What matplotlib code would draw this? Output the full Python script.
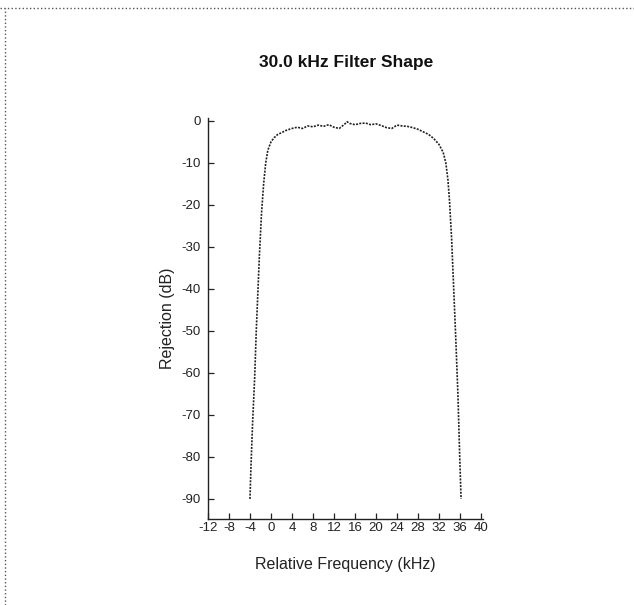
import matplotlib.pyplot as plt
from matplotlib.lines import Line2D

plt.rcParams['font.family'] = ['Liberation Sans', 'DejaVu Sans']
plt.rcParams['axes.unicode_minus'] = False

# relative frequency (kHz) and rejection (dB)
freq = [-4.0, -3.8, -3.5, -3.1, -2.8, -2.5, -2.2, -1.8, -1.4, -1.0, -0.6, 0.0,
        0.6, 1.2, 2.0, 3.0, 4.0,
        5, 6, 7, 8, 9, 10, 11, 12, 13, 14, 14.5, 15, 16, 17, 18, 19, 20, 21,
        22, 23, 24, 25, 26, 27, 28, 29, 30,
        31, 32, 32.8, 33.3, 33.7, 34.0, 34.4, 34.8, 35.2, 35.6, 35.9, 36.2]
rejection = [-90, -82, -72, -61, -50, -41, -32, -22, -15, -10, -7, -5,
             -4, -3.3, -2.8, -2.2, -1.8,
             -1.5, -1.8, -1.2, -1.4, -1.0, -1.3, -0.9, -1.5, -1.8, -0.8, -0.2,
             -0.6, -0.9, -0.6, -0.5, -0.9, -0.7, -1.1, -1.6, -1.8, -1.0, -1.2,
             -1.3, -1.6, -2.0, -2.6, -3.2,
             -4.2, -5.6, -7.5, -10, -14, -19, -28, -40, -52, -65, -78, -90]

xticks = [-12, -8, -4, 0, 4, 8, 12, 16, 20, 24, 28, 32, 36, 40]
yticks = [0, -10, -20, -30, -40, -50, -60, -70, -80, -90]

fig = plt.figure(figsize=(6.34, 6.05), dpi=100)
ax = fig.add_axes([0.328, 0.142, 0.434, 0.663])

ax.plot(freq, rejection, color='#222222', lw=1.2, ls=(0, (1.2, 0.8)))

ax.set_xlim(-12, 40.4)
ax.set_ylim(-94.8, 0.7)
ax.set_xticks(xticks)
ax.set_yticks(yticks)
ax.tick_params(direction='in', length=4, width=0.9, labelsize=9.5, pad=2,
               colors='#222222')
ax.tick_params(axis='y', pad=5)
for s in ['top', 'right']:
    ax.spines[s].set_visible(False)
for s in ['left', 'bottom']:
    ax.spines[s].set_color('#222222')
    ax.spines[s].set_linewidth(1.0)

ax.set_xlabel('Relative Frequency (kHz)', fontsize=11.5, labelpad=17, color='#222222')
ax.set_ylabel('Rejection (dB)', fontsize=11.5, labelpad=5, color='#222222')
fig.text(0.546, 0.897, '30.0 kHz Filter Shape', ha='center', va='center',
         fontsize=12.5, fontweight='bold', color='#111111')

# scan border (top and left edges)
fig.add_artist(Line2D([0.0, 1.0], [0.987, 0.987], transform=fig.transFigure,
                      color='#555555', lw=1, ls=':'))
fig.add_artist(Line2D([0.008, 0.008], [0.0, 0.987], transform=fig.transFigure,
                      color='#555555', lw=1, ls=':'))

fig.savefig('out.png', dpi=100, facecolor='white')
